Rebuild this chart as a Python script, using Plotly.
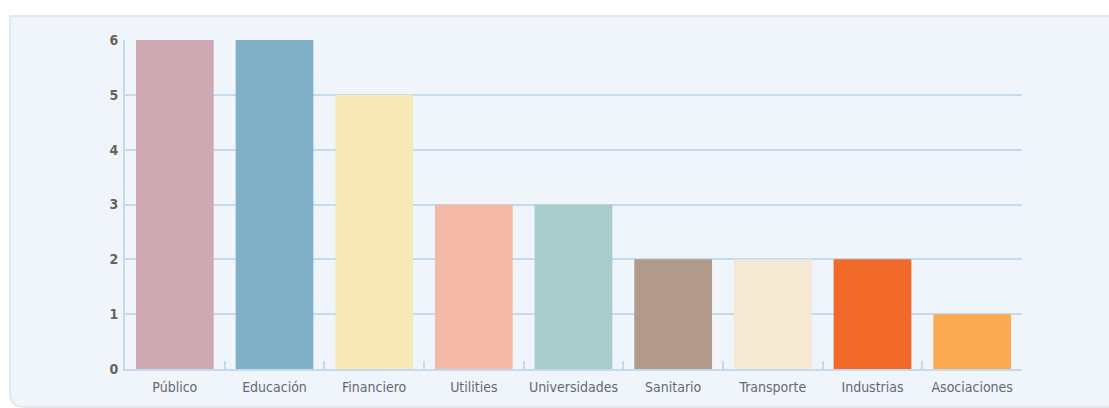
import plotly.graph_objects as go

# Sector counts
sectors = ["Público", "Educación", "Financiero", "Utilities", "Universidades",
           "Sanitario", "Transporte", "Industrias", "Asociaciones"]
counts = [6, 6, 5, 3, 3, 2, 2, 2, 1]
bar_colors = ["#cea8b2", "#80b0c8", "#f6e9b6", "#f4baa7", "#a8cbcb",
              "#b19a8b", "#f5e9d4", "#f26a2a", "#fbaa52"]
y_ticks = [0, 1, 2, 3, 4, 5, 6]

W, H = 1109, 408
ML, MR, MT, MB = 125, 87, 40, 39
grid_col = "#c4daef"
font_fam = "DejaVu Sans Condensed, Liberation Sans Narrow, sans-serif"

fig = go.Figure(go.Bar(
    x=sectors,
    y=counts,
    marker=dict(color=bar_colors, line=dict(width=0)),
    hoverinfo="x+y",
))

# Rounded panel behind the plot (runs past the right edge), in axis-domain units
pw, ph = W - ML - MR, H - MT - MB
def px_to_dom(xp, yp):
    return (xp - ML) / pw, (H - MB - yp) / ph

x0, y0, x1, y1, r = 10, 16, 1130, 407, 14
p0 = px_to_dom(x0, y0)
p1 = px_to_dom(x1, y1)
pr = px_to_dom(x0 + r, y1 - r)
panel_path = (
    f"M {p0[0]},{p0[1]} L {p1[0]},{p0[1]} L {p1[0]},{p1[1]} L {pr[0]},{p1[1]} "
    f"Q {p0[0]},{p1[1]} {p0[0]},{pr[1]} Z"
)

fig.update_layout(
    width=W, height=H,
    margin=dict(l=ML, r=MR, t=MT, b=MB),
    paper_bgcolor="white",
    plot_bgcolor="rgba(0,0,0,0)",
    bargap=0.22,
    showlegend=False,
    shapes=[dict(type="path", path=panel_path, xref="x domain", yref="y domain",
                 layer="below", fillcolor="#f0f5fb",
                 line=dict(color="#dfe3e8", width=1.5))],
    font=dict(family=font_fam, color="#666666"),
)

fig.update_xaxes(
    showgrid=False,
    showline=True, linecolor=grid_col, linewidth=2,
    ticks="inside", tickson="boundaries", ticklen=8, tickwidth=2,
    tickcolor=grid_col, ticklabelstandoff=4,
    tickfont=dict(size=14, color="#666870", family=font_fam),
    fixedrange=True,
)
fig.update_yaxes(
    range=[0, 6],
    tickvals=y_ticks,
    showgrid=True, gridcolor=grid_col, gridwidth=2,
    zeroline=False,
    showline=True, linecolor=grid_col, linewidth=2,
    ticks="", ticklabelstandoff=2,
    tickfont=dict(size=14, color="#6a6258", family=font_fam, weight=600),
    fixedrange=True,
)

fig.write_html("out.html")
